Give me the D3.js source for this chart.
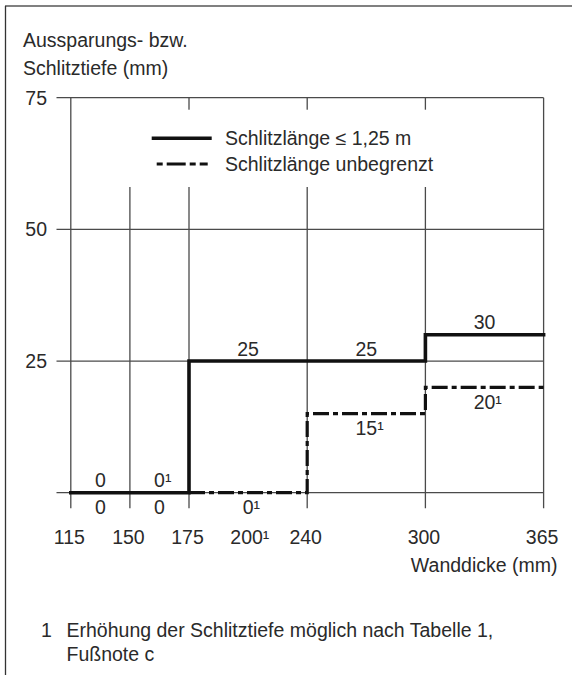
<!DOCTYPE html>
<html><head><meta charset="utf-8">
<script src="https://cdn.jsdelivr.net/npm/d3@7"></script>
<style>
html,body{margin:0;padding:0;background:#fff;}
svg{display:block;font-family:"Liberation Sans",Arial,Helvetica,sans-serif;}
</style></head>
<body>
<svg id="chart" width="572" height="675"></svg>
<script>
// ---- data ----
const xTickValues = [115, 150, 175, 200, 240, 300, 365];
const xTickMain   = ["115", "150", "175", "200", "240", "300", "365"];
const xTickSup    = ["", "", "", "¹", "", "", ""];
const xGridValues = [115, 150, 175, 240, 300, 365];
const yTickValues = [0, 25, 50, 75];

// Schlitzlänge ≤ 1,25 m (step after)
const shortX = [115, 175, 300, 365];
const shortY = [0, 25, 30, 30];
// Schlitzlänge unbegrenzt (step after)
const unlimX = [175, 240, 300, 365];
const unlimY = [0, 15, 20, 20];

// value labels: segment start, segment end, value, superscript, side
const labStart = [115, 115, 150, 150, 175, 175, 240, 240, 300, 300];
const labEnd   = [150, 150, 175, 175, 240, 240, 300, 300, 365, 365];
const labValue = [0, 0, 0, 0, 0, 25, 25, 15, 30, 20];
const labMain  = ["0", "0", "0", "0", "0", "25", "25", "15", "30", "20"];
const labSup   = ["", "", "¹", "", "¹", "", "", "¹", "", "¹"];
const labSide  = ["above", "below", "above", "below", "below", "above", "above", "below", "above", "below"];

const legendLabels = ["Schlitzlänge ≤ 1,25 m", "Schlitzlänge unbegrenzt"];
const yTitle = ["Aussparungs- bzw.", "Schlitztiefe (mm)"];
const xTitle = "Wanddicke (mm)";
const footNum = "1";
const footText = ["Erhöhung der Schlitztiefe möglich nach Tabelle 1,", "Fußnote c"];

// ---- layout ----
const FS = 19.5;
const TXT = "#2a2a2a";
const GRID = "#4a4a4a";
const svg = d3.select("#chart");

const x0 = 70.8, step = 59.1;
const x = d3.scaleLinear()
  .domain([115, 150, 175, 200, 240, 300, 365])
  .range([0, 1, 2, 3, 4, 6, 8].map(i => x0 + i * step));
const y = d3.scaleLinear().domain([0, 75]).range([492.7, 97.7]);

// frame
svg.append("line").attr("x1", 5).attr("x2", 572).attr("y1", 6).attr("y2", 6)
  .attr("stroke", "#808080").attr("stroke-width", 2);
svg.append("line").attr("x1", 5.5).attr("x2", 5.5).attr("y1", 6).attr("y2", 675)
  .attr("stroke", "#333").attr("stroke-width", 1.3);

// y title
svg.selectAll("text.ytitle").data(yTitle).join("text")
  .attr("class", "ytitle").attr("x", 23).attr("y", (d, i) => 46.5 + i * 28.5)
  .attr("font-size", FS).attr("fill", TXT).text(d => d);

const grid = svg.append("g");
// vertical gridlines (extend below baseline)
grid.selectAll("line.v").data(xGridValues).join("line").attr("class", "v")
  .attr("x1", d => x(d)).attr("x2", d => x(d))
  .attr("y1", y(75)).attr("y2", y(0) + 15.5)
  .attr("stroke", GRID).attr("stroke-width", 1.3);

// legend background (hides gridlines)
const legTop = y(75) + 12, legBottom = 187;
svg.append("rect").attr("x", 118).attr("y", legTop)
  .attr("width", 355).attr("height", legBottom - legTop).attr("fill", "#fff");
svg.append("rect").attr("x", 118).attr("y", y(75))
  .attr("width", 30).attr("height", legBottom - y(75)).attr("fill", "#fff");

// horizontal gridlines (drawn after the legend mask)
grid.raise();
svg.append("g").selectAll("line.h").data(yTickValues).join("line").attr("class", "h")
  .attr("x1", 56.5).attr("x2", x(365))
  .attr("y1", d => y(d)).attr("y2", d => y(d))
  .attr("stroke", GRID).attr("stroke-width", 1.3);
grid.lower();

// y tick labels
svg.selectAll("text.ylab").data(yTickValues.filter(d => d > 0)).join("text")
  .attr("class", "ylab").attr("x", 47).attr("y", d => y(d)).attr("dy", "0.36em")
  .attr("text-anchor", "end").attr("font-size", FS).attr("fill", TXT).text(d => d);

// helper: text with centered main part and trailing superscript
function supText(g, cx, cy, main, sup) {
  const t = g.append("text").attr("y", cy).attr("dy", "0.36em")
    .attr("font-size", FS).attr("fill", TXT);
  const m = t.append("tspan").text(main);
  if (sup) t.append("tspan").text(sup);
  const w = m.node().getComputedTextLength();
  t.attr("x", cx - w / 2);
  return t;
}

// x tick labels
const xl = svg.append("g");
xTickValues.forEach((v, i) => supText(xl, x(v) - 1.5, 536.5, xTickMain[i], xTickSup[i]));

// x title
svg.append("text").attr("x", 557.5).attr("y", 565).attr("dy", "0.36em")
  .attr("text-anchor", "end").attr("font-size", FS).attr("fill", TXT).text(xTitle);

// step lines
const stepLine = d3.line().x(d => x(d[0])).y(d => y(d[1])).curve(d3.curveStepAfter);
svg.append("path").datum(d3.zip(unlimX, unlimY))
  .attr("d", stepLine).attr("fill", "none").attr("stroke", "#111")
  .attr("stroke-width", 3.2).attr("stroke-dasharray", "16,4,5,4");
svg.append("path").datum(d3.zip(shortX, shortY))
  .attr("d", stepLine).attr("fill", "none").attr("stroke", "#111")
  .attr("stroke-width", 3.6).attr("stroke-linecap", "square");

// value labels
const vl = svg.append("g");
labStart.forEach((s, i) => {
  const cx = (x(s) + x(labEnd[i])) / 2;
  const cy = y(labValue[i]) + (labSide[i] === "above" ? -12.5 : 14.5);
  supText(vl, cx, cy, labMain[i], labSup[i]);
});

// legend
const lg = svg.append("g");
lg.append("line").attr("x1", 151.7).attr("x2", 211.7).attr("y1", 138.3).attr("y2", 138.3)
  .attr("stroke", "#111").attr("stroke-width", 3.6);
lg.append("line").attr("x1", 156.7).attr("x2", 211.7).attr("y1", 164).attr("y2", 164)
  .attr("stroke", "#111").attr("stroke-width", 3.2).attr("stroke-dasharray", "6,4,19,4,6,4,8");
lg.selectAll("text").data(legendLabels).join("text")
  .attr("x", 225).attr("y", (d, i) => 138.3 + i * 25.7).attr("dy", "0.36em")
  .attr("font-size", FS).attr("fill", TXT).text(d => d);

// footnote
svg.append("text").attr("x", 41).attr("y", 636.5).attr("font-size", FS).attr("fill", TXT).text(footNum);
svg.selectAll("text.foot").data(footText).join("text").attr("class", "foot")
  .attr("x", 66.5).attr("y", (d, i) => 636.5 + i * 24.5)
  .attr("font-size", FS).attr("fill", TXT).text(d => d);
</script>
</body></html>
